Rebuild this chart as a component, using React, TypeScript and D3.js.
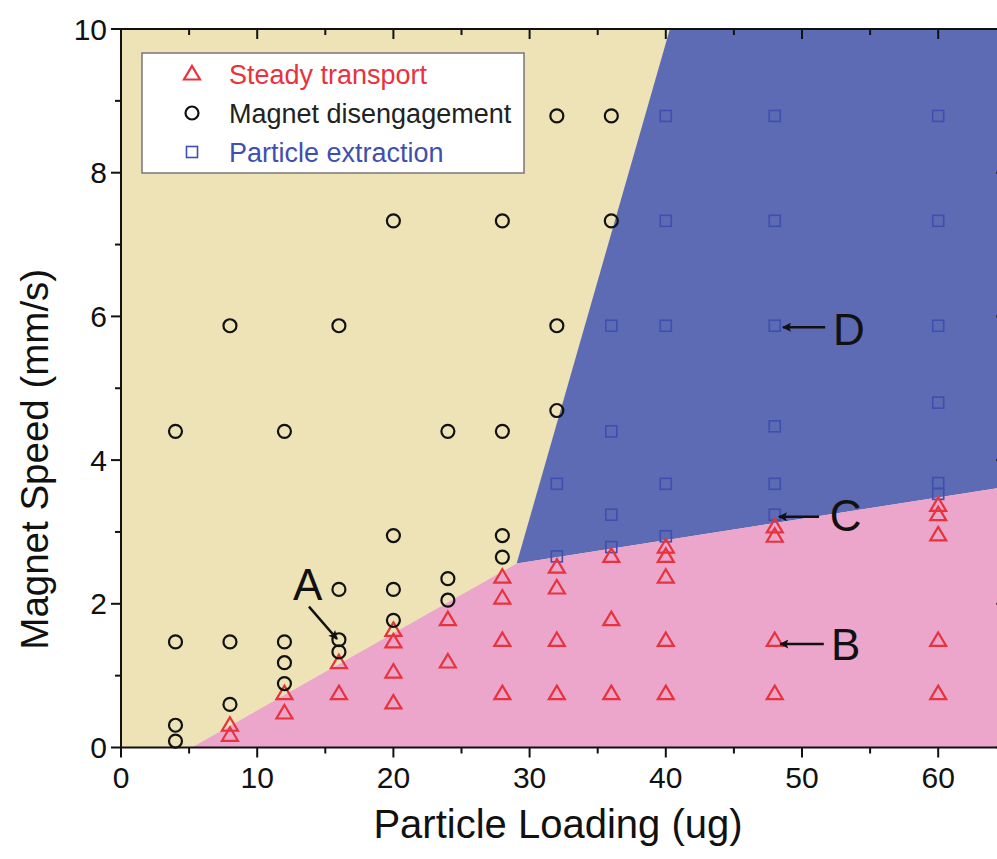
import React, { useEffect, useRef } from "react";
import * as d3 from "d3";

// Particle loading (ug), magnet speed (mm/s)
const steadyTransport: [number, number][] = [
  [8, 0.17], [8, 0.31], [12, 0.48], [12, 0.75], [16, 0.75], [16, 1.18],
  [20, 0.62], [20, 1.05], [20, 1.47], [20, 1.63], [24, 1.19], [24, 1.78],
  [28, 0.75], [28, 1.49], [28, 2.08], [28, 2.37],
  [32, 0.75], [32, 1.49], [32, 2.22], [32, 2.51],
  [36, 0.75], [36, 1.78], [36, 2.66],
  [40, 0.75], [40, 1.49], [40, 2.37], [40, 2.66], [40, 2.79],
  [48, 0.75], [48, 1.49], [48, 2.94], [48, 3.07],
  [60, 0.75], [60, 1.49], [60, 2.96], [60, 3.24], [60, 3.37],
];

const magnetDisengagement: [number, number][] = [
  [4, 0.09], [4, 0.31], [4, 1.47], [4, 4.4],
  [8, 0.6], [8, 1.47], [8, 5.87],
  [12, 0.89], [12, 1.18], [12, 1.47], [12, 4.4],
  [16, 1.33], [16, 1.5], [16, 2.2], [16, 5.87],
  [20, 1.77], [20, 2.2], [20, 2.95], [20, 7.33],
  [24, 2.05], [24, 2.35], [24, 4.4],
  [28, 2.65], [28, 2.95], [28, 4.4], [28, 7.33],
  [32, 4.69], [32, 5.87], [32, 8.79],
  [36, 7.33], [36, 8.79],
];

const particleExtraction: [number, number][] = [
  [32, 2.66], [32, 3.67],
  [36, 2.79], [36, 3.24], [36, 4.4], [36, 5.87],
  [40, 2.94], [40, 3.67], [40, 5.87], [40, 7.33], [40, 8.79],
  [48, 3.24], [48, 3.67], [48, 4.47], [48, 5.87], [48, 7.33], [48, 8.79],
  [60, 3.53], [60, 3.68], [60, 4.8], [60, 5.87], [60, 7.33], [60, 8.79],
];

// region boundaries
const transportEdge: [number, number][] = [[5.2, 0], [29.05, 2.56], [65, 3.63]];
const extractionRegion: [number, number][] = [[40.3, 10], [29.05, 2.56], [65, 3.63], [65, 10]];

const xTicks = [0, 10, 20, 30, 40, 50, 60];
const yTicks = [0, 2, 4, 6, 8, 10];

const annotations = [
  { label: "A", at: [13.7, 2.28], from: [13.8, 1.96], to: [15.86, 1.51] },
  { label: "B", at: [53.2, 1.44], from: [51.6, 1.44], to: [48.4, 1.44] },
  { label: "C", at: [53.2, 3.24], from: [51.25, 3.21], to: [48.3, 3.21] },
  { label: "D", at: [53.45, 5.82], from: [51.7, 5.85], to: [48.6, 5.85] },
];

const legendItems = [
  { name: "Steady transport", shape: "triangle", color: "#e8323c" },
  { name: "Magnet disengagement", shape: "circle", color: "#111" },
  { name: "Particle extraction", shape: "square", color: "#3f4fb0" },
];

const font = "Liberation Sans, Arial, sans-serif";

const App = () => {
  const ref = useRef<SVGSVGElement>(null);

  useEffect(() => {
    const W = 997, H = 859;
    const svg = d3.select(ref.current).attr("width", W).attr("height", H);
    svg.selectAll("*").remove();

    const x = d3.scaleLinear().domain([0, 65]).range([121, 121 + 65 * 13.62]);
    const y = d3.scaleLinear().domain([0, 10]).range([747.5, 29]);
    const [x0, x1] = x.range();
    const [y0, y1] = y.range();
    const toPx = (pts: [number, number][]) => pts.map(([a, b]) => [x(a), y(b)] as [number, number]);

    // background regions
    svg.append("rect").attr("x", x0).attr("y", y1).attr("width", x1 - x0).attr("height", y0 - y1)
      .attr("fill", "#ede3b6");

    svg.append("path")
      .attr("d", d3.line()(toPx(extractionRegion)) + "Z")
      .attr("fill", "#5c6bb3");

    svg.append("path")
      .attr("d", d3.line()(toPx([...transportEdge, [65, 0]])) + "Z")
      .attr("fill", "#eca6cb");

    // axes frame
    const g = svg.append("g").attr("stroke", "#111").attr("stroke-width", 2).attr("fill", "none");
    g.append("rect").attr("x", x0).attr("y", y1).attr("width", x1 - x0).attr("height", y0 - y1);

    const xMinor = d3.range(5, 65, 10);
    const yMinor = d3.range(1, 10, 2);
    xTicks.forEach((t) => {
      g.append("line").attr("x1", x(t)).attr("x2", x(t)).attr("y1", y0).attr("y2", y0 + 10);
      g.append("line").attr("x1", x(t)).attr("x2", x(t)).attr("y1", y1).attr("y2", y1 + 10);
    });
    xMinor.forEach((t) => {
      g.append("line").attr("x1", x(t)).attr("x2", x(t)).attr("y1", y0).attr("y2", y0 + 6);
      g.append("line").attr("x1", x(t)).attr("x2", x(t)).attr("y1", y1).attr("y2", y1 + 6);
    });
    yTicks.forEach((t) => {
      g.append("line").attr("x1", x0 - 10).attr("x2", x0).attr("y1", y(t)).attr("y2", y(t));
      g.append("line").attr("x1", x1 - 10).attr("x2", x1).attr("y1", y(t)).attr("y2", y(t));
    });
    yMinor.forEach((t) => {
      g.append("line").attr("x1", x0 - 6).attr("x2", x0).attr("y1", y(t)).attr("y2", y(t));
      g.append("line").attr("x1", x1 - 6).attr("x2", x1).attr("y1", y(t)).attr("y2", y(t));
    });

    svg.append("g").selectAll("text").data(xTicks).join("text")
      .attr("x", (d) => x(d)).attr("y", y0 + 40).attr("text-anchor", "middle")
      .attr("font-family", font).attr("font-size", 30).attr("fill", "#111").text((d) => d);
    svg.append("g").selectAll("text").data(yTicks).join("text")
      .attr("x", x0 - 14).attr("y", (d) => y(d)).attr("dy", "0.35em").attr("text-anchor", "end")
      .attr("font-family", font).attr("font-size", 30).attr("fill", "#111").text((d) => d);

    svg.append("text").attr("x", 558).attr("y", 838).attr("text-anchor", "middle")
      .attr("font-family", font).attr("font-size", 40).attr("fill", "#111").text("Particle Loading (ug)");
    svg.append("text").attr("transform", `translate(48,${(y0 + y1) / 2 + 71}) rotate(-90)`)
      .attr("text-anchor", "middle")
      .attr("font-family", font).attr("font-size", 38.5).attr("fill", "#111").text("Magnet Speed (mm/s)");

    // markers
    const tri = (cx: number, cy: number) => `M${cx},${cy - 8}L${cx + 8},${cy + 5.5}L${cx - 8},${cy + 5.5}Z`;

    svg.append("g").selectAll("rect").data(particleExtraction).join("rect")
      .attr("x", (d) => x(d[0]) - 5.5).attr("y", (d) => y(d[1]) - 5.5)
      .attr("width", 11).attr("height", 11)
      .attr("fill", "none").attr("stroke", "#3f4fb0").attr("stroke-width", 1.6);

    svg.append("g").selectAll("path").data(steadyTransport).join("path")
      .attr("d", (d) => tri(x(d[0]), y(d[1])))
      .attr("fill", "none").attr("stroke", "#e8323c").attr("stroke-width", 2.2);

    svg.append("g").selectAll("circle").data(magnetDisengagement).join("circle")
      .attr("cx", (d) => x(d[0])).attr("cy", (d) => y(d[1])).attr("r", 6.5)
      .attr("fill", "none").attr("stroke", "#111").attr("stroke-width", 2.2);

    // annotations
    svg.append("defs").append("marker").attr("id", "head")
      .attr("viewBox", "0 0 10 10").attr("refX", 9).attr("refY", 5)
      .attr("markerWidth", 15).attr("markerHeight", 9).attr("markerUnits", "userSpaceOnUse")
      .attr("orient", "auto")
      .append("path").attr("d", "M0,0L10,5L0,10L2,5Z").attr("fill", "#111");

    annotations.forEach((a) => {
      svg.append("line")
        .attr("x1", x(a.from[0])).attr("y1", y(a.from[1]))
        .attr("x2", x(a.to[0])).attr("y2", y(a.to[1]))
        .attr("stroke", "#111").attr("stroke-width", 2.5).attr("marker-end", "url(#head)");
      svg.append("text").attr("x", x(a.at[0])).attr("y", y(a.at[1])).attr("dy", "0.36em")
        .attr("text-anchor", "middle").attr("font-family", font).attr("font-size", 44)
        .attr("fill", "#111").text(a.label);
    });

    // legend
    const lg = svg.append("g");
    lg.append("rect").attr("x", 142).attr("y", 53).attr("width", 382).attr("height", 120)
      .attr("fill", "#fff").attr("stroke", "#777").attr("stroke-width", 1.5);
    legendItems.forEach((it, i) => {
      const cy = 74 + i * 39;
      if (it.shape === "triangle") {
        lg.append("path").attr("d", tri(192, cy)).attr("fill", "none")
          .attr("stroke", it.color).attr("stroke-width", 2.2);
      } else if (it.shape === "circle") {
        lg.append("circle").attr("cx", 192).attr("cy", cy).attr("r", 6.5).attr("fill", "none")
          .attr("stroke", it.color).attr("stroke-width", 2.2);
      } else {
        lg.append("rect").attr("x", 186.5).attr("y", cy - 5.5).attr("width", 11).attr("height", 11)
          .attr("fill", "none").attr("stroke", it.color).attr("stroke-width", 1.6);
      }
      lg.append("text").attr("x", 229).attr("y", cy).attr("dy", "0.36em")
        .attr("font-family", font).attr("font-size", 27).attr("fill", it.color === "#111" ? "#222" : it.color)
        .text(it.name);
    });
  }, []);

  return <svg ref={ref} style={{ position: "absolute", left: 0, top: 0 }}></svg>;
};

export default App;
